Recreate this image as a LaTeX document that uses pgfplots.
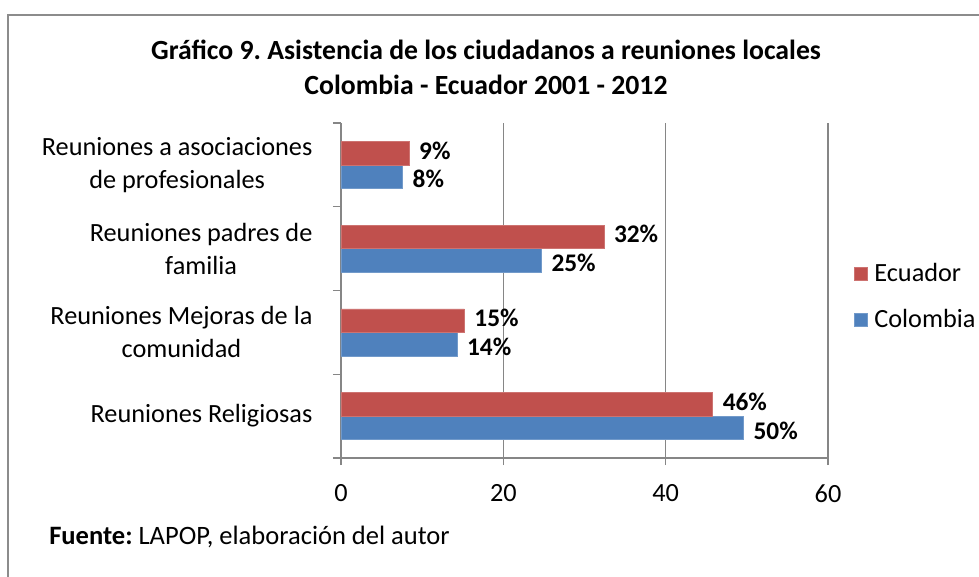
\documentclass[border=0pt]{standalone}
\usepackage{pgfplots}
\pgfplotsset{compat=1.18}
\usepackage{fontspec}
\setmainfont{Carlito}
\definecolor{ecu}{HTML}{C0504D}
\definecolor{col}{HTML}{4F81BD}
\definecolor{axgray}{HTML}{868686}
\definecolor{framegray}{HTML}{8C8C8C}
\begin{document}
\frenchspacing
\begin{tikzpicture}
\useasboundingbox (0,0) rectangle (734.25pt,432pt);
\draw[framegray, line width=1.6pt] (6pt,-10pt) -- (6pt,420.75pt) -- (745pt,420.75pt);
\node[font=\bfseries\fontsize{20.8}{26.25}\selectfont, align=center] at (364.5pt,381.4pt)
  {Gráfico 9. Asistencia de los ciudadanos a reuniones locales\\Colombia - Ecuador 2001 - 2012};
\node[anchor=west, font=\fontsize{19.9}{22}\selectfont, inner sep=0pt] at (36.75pt,29.5pt)
  {\textbf{Fuente:} LAPOP, elaboración del autor};
\begin{axis}[
  at={(255.75pt,88.5pt)}, anchor=south west,
  scale only axis, width=365.25pt, height=251.25pt,
  xbar, bar width=17.6pt,
  xmin=0, xmax=60, ymin=-0.5, ymax=3.5,
  axis x line=bottom, axis y line=left,
  axis line style={axgray, line width=1pt, -},
  xtick={0,20,40,60},
  xmajorgrids, grid style={axgray, line width=1pt},
  ytick={0,1,2,3},
  yticklabels={{Reuniones Religiosas},{Reuniones Mejoras de la\\comunidad},{Reuniones padres de\\familia},{Reuniones a asociaciones\\de profesionales}},
  minor ytick={-0.5,0.5,1.5,2.5,3.5},
  tick align=outside,
  major tick length=5.25pt, minor tick length=6pt,
  tick style={axgray, line width=1pt},
  major y tick style={draw=none},
  x tick label style={font=\fontsize{19.7}{22}\selectfont, yshift=-11pt},
  y tick label style={align=center, font=\fontsize{19.7}{24.75}\selectfont, inner sep=0pt, xshift=-16pt},
  /pgf/number format/assume math mode=true,
  point meta=explicit symbolic,
  nodes near coords,
  every node near coord/.append style={font=\bfseries\fontsize{19}{22}\selectfont, anchor=west, xshift=4pt, black},
  reverse legend,
  legend cell align=left,
  legend style={at={(1.045,0.482)}, anchor=west, draw=none, fill=none,
    font=\fontsize{19.7}{22}\selectfont, row sep=15pt,
    /tikz/every odd column/.append style={column sep=3pt}},
  legend image code/.code={\fill[#1] (0pt,-4.9pt) rectangle (9.75pt,4.9pt);},
]
\addplot[fill=col, draw=col!80!white, bar shift=-8.8pt,
  every node near coord/.append style={yshift=-2pt}] coordinates {
  (49.6,0) [50\%]
  (14.3,1) [14\%]
  (24.7,2) [25\%]
  (7.6,3) [8\%]
};
\addlegendentry{Colombia}
\addplot[fill=ecu, draw=ecu!80!white, bar shift=8.8pt,
  every node near coord/.append style={yshift=2pt}] coordinates {
  (45.8,0) [46\%]
  (15.2,1) [15\%]
  (32.4,2) [32\%]
  (8.4,3) [9\%]
};
\addlegendentry{Ecuador}
\end{axis}
\end{tikzpicture}
\end{document}
